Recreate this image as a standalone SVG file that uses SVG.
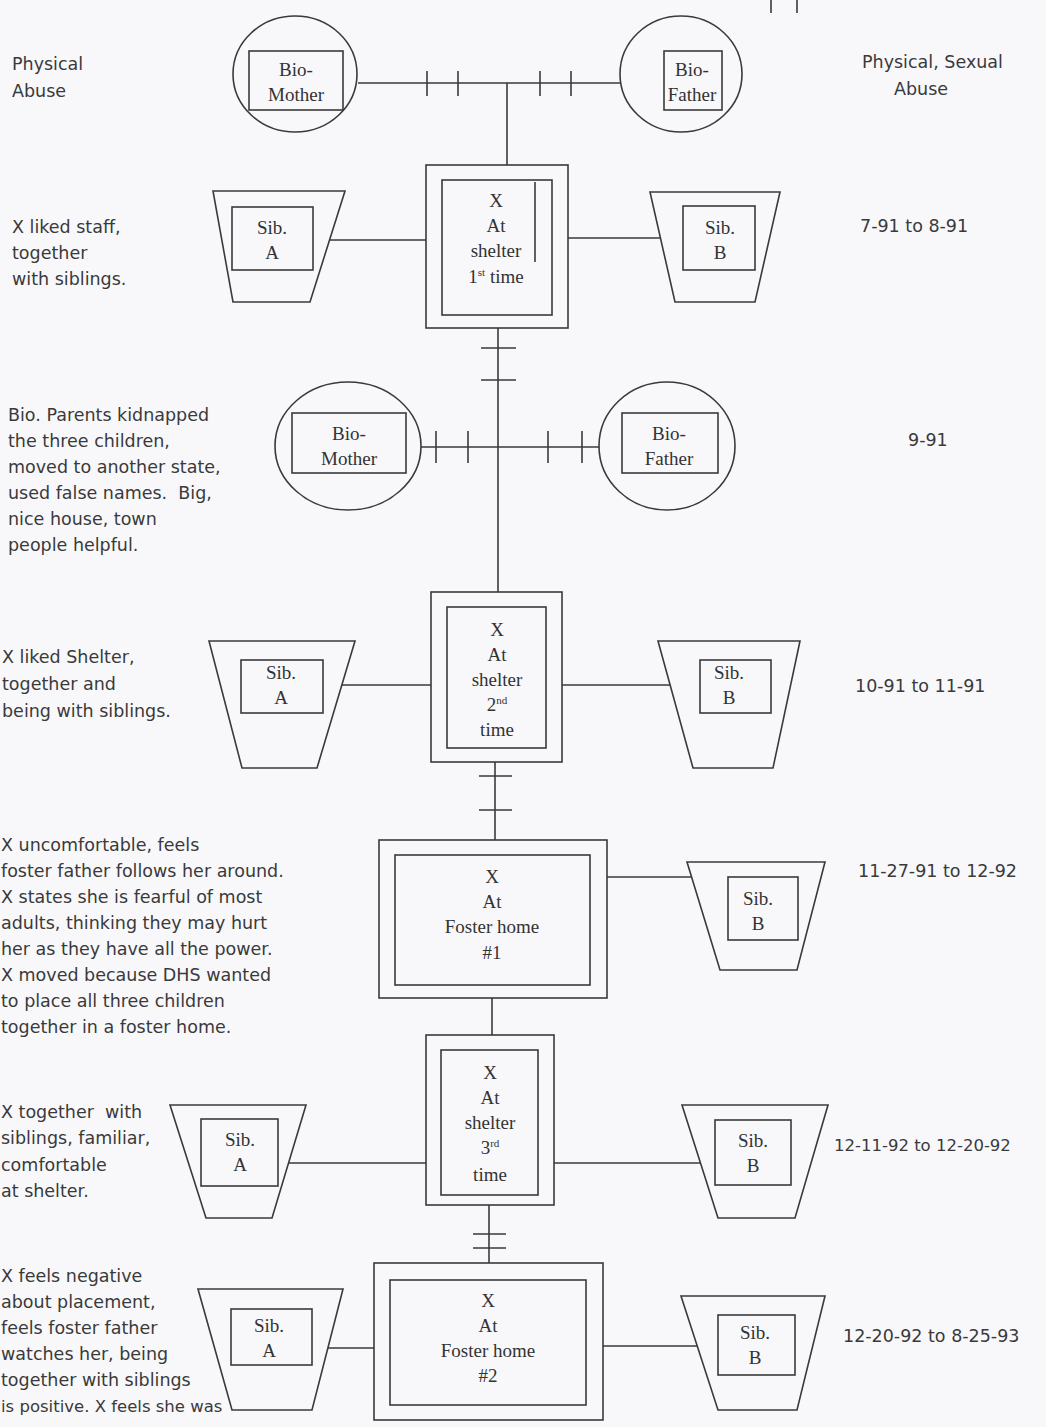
<svg xmlns="http://www.w3.org/2000/svg" width="1046" height="1427" viewBox="0 0 1046 1427">
<style>
.s{fill:none;stroke:#3a3a3a;stroke-width:1.6}
.n{font-family:"Liberation Serif","Times New Roman",serif;font-size:19px;fill:#333;text-anchor:middle}
.sup{font-size:11px}
.t{font-family:"DejaVu Sans","Liberation Sans",sans-serif;font-size:17.5px;fill:#3a3a3a}
</style>
<rect width="1046" height="1427" fill="#f8f8fb"/>
<g id="connectors" class="s">
  <line x1="771" y1="0" x2="771" y2="13"/>
  <line x1="797" y1="0" x2="797" y2="13"/>
  <line x1="358" y1="83" x2="620" y2="83"/>
  <line x1="427" y1="71" x2="427" y2="96"/>
  <line x1="458" y1="71" x2="458" y2="96"/>
  <line x1="540" y1="71" x2="540" y2="96"/>
  <line x1="571" y1="71" x2="571" y2="96"/>
  <line x1="507" y1="83" x2="507" y2="165"/>
  <line x1="330" y1="240" x2="426" y2="240"/>
  <line x1="568" y1="238" x2="660" y2="238"/>
  <line x1="498" y1="328" x2="498" y2="592"/>
  <line x1="481" y1="348" x2="516" y2="348"/>
  <line x1="481" y1="380" x2="516" y2="380"/>
  <line x1="421" y1="447" x2="599" y2="447"/>
  <line x1="436" y1="431" x2="436" y2="463"/>
  <line x1="468" y1="431" x2="468" y2="463"/>
  <line x1="548" y1="431" x2="548" y2="463"/>
  <line x1="582" y1="431" x2="582" y2="463"/>
  <line x1="342" y1="685" x2="431" y2="685"/>
  <line x1="562" y1="685" x2="670" y2="685"/>
  <line x1="495" y1="762" x2="495" y2="840"/>
  <line x1="479" y1="776" x2="512" y2="776"/>
  <line x1="479" y1="810" x2="512" y2="810"/>
  <line x1="607" y1="877" x2="691" y2="877"/>
  <line x1="492" y1="998" x2="492" y2="1035"/>
  <line x1="289" y1="1163" x2="426" y2="1163"/>
  <line x1="554" y1="1163" x2="700" y2="1163"/>
  <line x1="489" y1="1205" x2="489" y2="1263"/>
  <line x1="473" y1="1234" x2="506" y2="1234"/>
  <line x1="473" y1="1248" x2="506" y2="1248"/>
  <line x1="328" y1="1348" x2="374" y2="1348"/>
  <line x1="603" y1="1346" x2="697" y2="1346"/>
</g>

<g id="biomother1">
  <ellipse class="s" cx="295" cy="74" rx="62" ry="58"/>
  <rect class="s" x="249" y="51" width="94" height="59"/>
  <text class="n" x="296" y="76">Bio-</text>
  <text class="n" x="296" y="101">Mother</text>
</g>
<g id="biofather1">
  <ellipse class="s" cx="681" cy="74" rx="61" ry="58"/>
  <rect class="s" x="664" y="51" width="58" height="59"/>
  <text class="n" x="692" y="76">Bio-</text>
  <text class="n" x="692" y="101">Father</text>
</g>
<g id="shelter1">
  <rect class="s" x="426" y="165" width="142" height="163"/>
  <rect class="s" x="442" y="180" width="110" height="135"/>
  <line class="s" x1="535" y1="182" x2="535" y2="262"/>
  <text class="n" x="496" y="207">X</text>
  <text class="n" x="496" y="232">At</text>
  <text class="n" x="496" y="257">shelter</text>
  <text class="n" x="496" y="283">1<tspan class="sup" dy="-7">st</tspan><tspan dy="7"> time</tspan></text>
</g>
<g id="sibA1">
  <polygon class="s" points="213,191 345,191 310,302 233,302"/>
  <rect class="s" x="232" y="207" width="81" height="63"/>
  <text class="n" x="272" y="234">Sib.</text>
  <text class="n" x="272" y="259">A</text>
</g>
<g id="sibB1">
  <polygon class="s" points="650,192 780,192 755,302 675,302"/>
  <rect class="s" x="683" y="206" width="72" height="64"/>
  <text class="n" x="720" y="234">Sib.</text>
  <text class="n" x="720" y="259">B</text>
</g>

<g id="biomother2">
  <ellipse class="s" cx="348" cy="446" rx="73" ry="64"/>
  <rect class="s" x="292" y="413" width="114" height="60"/>
  <text class="n" x="349" y="440">Bio-</text>
  <text class="n" x="349" y="465">Mother</text>
</g>
<g id="biofather2">
  <ellipse class="s" cx="667" cy="446" rx="68" ry="64"/>
  <rect class="s" x="622" y="413" width="96" height="60"/>
  <text class="n" x="669" y="440">Bio-</text>
  <text class="n" x="669" y="465">Father</text>
</g>

<g id="shelter2">
  <rect class="s" x="431" y="592" width="131" height="170"/>
  <rect class="s" x="447" y="607" width="99" height="141"/>
  <text class="n" x="497" y="636">X</text>
  <text class="n" x="497" y="661">At</text>
  <text class="n" x="497" y="686">shelter</text>
  <text class="n" x="497" y="711">2<tspan class="sup" dy="-7">nd</tspan></text>
  <text class="n" x="497" y="736">time</text>
</g>
<g id="sibA2">
  <polygon class="s" points="209,641 355,641 317,768 242,768"/>
  <rect class="s" x="241" y="660" width="82" height="53"/>
  <text class="n" x="281" y="679">Sib.</text>
  <text class="n" x="281" y="704">A</text>
</g>
<g id="sibB2">
  <polygon class="s" points="658,641 800,641 773,768 693,768"/>
  <rect class="s" x="700" y="660" width="71" height="53"/>
  <text class="n" x="729" y="679">Sib.</text>
  <text class="n" x="729" y="704">B</text>
</g>

<g id="foster1">
  <rect class="s" x="379" y="840" width="228" height="158"/>
  <rect class="s" x="395" y="855" width="195" height="130"/>
  <text class="n" x="492" y="883">X</text>
  <text class="n" x="492" y="908">At</text>
  <text class="n" x="492" y="933">Foster home</text>
  <text class="n" x="492" y="959">#1</text>
</g>
<g id="sibB3">
  <polygon class="s" points="687,862 825,862 797,970 720,970"/>
  <rect class="s" x="728" y="877" width="70" height="63"/>
  <text class="n" x="758" y="905">Sib.</text>
  <text class="n" x="758" y="930">B</text>
</g>

<g id="shelter3">
  <rect class="s" x="426" y="1035" width="128" height="170"/>
  <rect class="s" x="441" y="1050" width="97" height="145"/>
  <text class="n" x="490" y="1079">X</text>
  <text class="n" x="490" y="1104">At</text>
  <text class="n" x="490" y="1129">shelter</text>
  <text class="n" x="490" y="1154">3<tspan class="sup" dy="-7">rd</tspan></text>
  <text class="n" x="490" y="1181">time</text>
</g>
<g id="sibA4">
  <polygon class="s" points="170,1105 306,1105 272,1218 206,1218"/>
  <rect class="s" x="201" y="1119" width="77" height="67"/>
  <text class="n" x="240" y="1146">Sib.</text>
  <text class="n" x="240" y="1171">A</text>
</g>
<g id="sibB4">
  <polygon class="s" points="682,1105 828,1105 795,1218 718,1218"/>
  <rect class="s" x="715" y="1120" width="76" height="65"/>
  <text class="n" x="753" y="1147">Sib.</text>
  <text class="n" x="753" y="1172">B</text>
</g>

<g id="foster2">
  <rect class="s" x="374" y="1263" width="229" height="157"/>
  <rect class="s" x="390" y="1280" width="196" height="125"/>
  <text class="n" x="488" y="1307">X</text>
  <text class="n" x="488" y="1332">At</text>
  <text class="n" x="488" y="1357">Foster home</text>
  <text class="n" x="488" y="1382">#2</text>
</g>
<g id="sibA5">
  <polygon class="s" points="198,1289 343,1289 312,1410 232,1410"/>
  <rect class="s" x="231" y="1309" width="81" height="56"/>
  <text class="n" x="269" y="1332">Sib.</text>
  <text class="n" x="269" y="1357">A</text>
</g>
<g id="sibB5">
  <polygon class="s" points="681,1296 825,1296 797,1410 718,1410"/>
  <rect class="s" x="718" y="1315" width="77" height="60"/>
  <text class="n" x="755" y="1339">Sib.</text>
  <text class="n" x="755" y="1364">B</text>
</g>

<g id="notes-left">
  <text class="t" x="12" y="70">Physical</text>
  <text class="t" x="12" y="97">Abuse</text>

  <text class="t" x="12" y="233">X liked staff,</text>
  <text class="t" x="12" y="259">together</text>
  <text class="t" x="12" y="285">with siblings.</text>

  <text class="t" x="8" y="421">Bio. Parents kidnapped</text>
  <text class="t" x="8" y="447">the three children,</text>
  <text class="t" x="8" y="473">moved to another state,</text>
  <text class="t" x="8" y="499" xml:space="preserve">used false names.  Big,</text>
  <text class="t" x="8" y="525">nice house, town</text>
  <text class="t" x="8" y="551">people helpful.</text>

  <text class="t" x="2" y="663">X liked Shelter,</text>
  <text class="t" x="2" y="690">together and</text>
  <text class="t" x="2" y="717">being with siblings.</text>

  <text class="t" x="1" y="851">X uncomfortable, feels</text>
  <text class="t" x="1" y="877">foster father follows her around.</text>
  <text class="t" x="1" y="903">X states she is fearful of most</text>
  <text class="t" x="1" y="929">adults, thinking they may hurt</text>
  <text class="t" x="1" y="955">her as they have all the power.</text>
  <text class="t" x="1" y="981">X moved because DHS wanted</text>
  <text class="t" x="1" y="1007">to place all three children</text>
  <text class="t" x="1" y="1033">together in a foster home.</text>

  <text class="t" x="1" y="1118" xml:space="preserve">X together  with</text>
  <text class="t" x="1" y="1144">siblings, familiar,</text>
  <text class="t" x="1" y="1171">comfortable</text>
  <text class="t" x="1" y="1197">at shelter.</text>

  <text class="t" x="1" y="1282">X feels negative</text>
  <text class="t" x="1" y="1308">about placement,</text>
  <text class="t" x="1" y="1334">feels foster father</text>
  <text class="t" x="1" y="1360">watches her, being</text>
  <text class="t" x="1" y="1386">together with siblings</text>
  <text class="t" x="1" y="1412" style="font-size:16.5px">is positive. X feels she was</text>
</g>

<g id="notes-right">
  <text class="t" x="862" y="68">Physical, Sexual</text>
  <text class="t" x="894" y="95">Abuse</text>
  <text class="t" x="860" y="232">7-91 to 8-91</text>
  <text class="t" x="908" y="446">9-91</text>
  <text class="t" x="855" y="692">10-91 to 11-91</text>
  <text class="t" x="858" y="877">11-27-91 to 12-92</text>
  <text class="t" x="834" y="1151" style="font-size:16.5px">12-11-92 to 12-20-92</text>
  <text class="t" x="843" y="1342">12-20-92 to 8-25-93</text>
</g>
</svg>
